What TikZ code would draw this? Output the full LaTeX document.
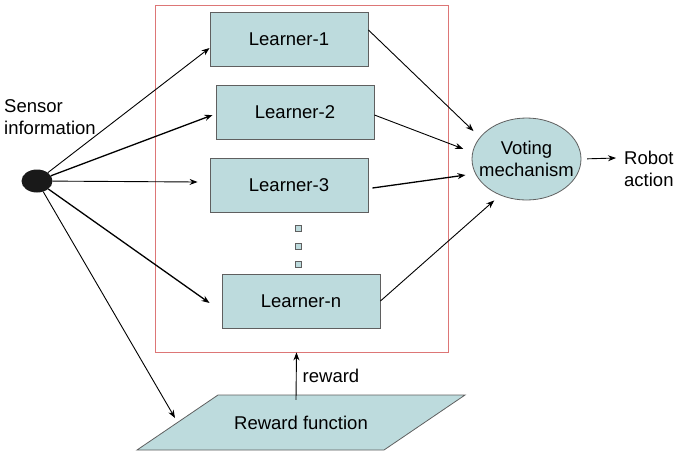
\documentclass[tikz,border=0pt]{standalone}
\usepackage{fontspec}
\setmainfont{Liberation Sans}
\usetikzlibrary{arrows.meta}
\usetikzlibrary{shapes.geometric}
\definecolor{boxfill}{RGB}{189,219,221}
\definecolor{boxline}{RGB}{95,95,95}
\definecolor{framered}{RGB}{221,118,118}

\begin{document}
\begin{tikzpicture}[x=1pt, y=-1pt, font=\fontsize{18.5}{22}\selectfont,
    learner/.style={draw=boxline, fill=boxfill, line width=0.9pt, minimum width=158pt, minimum height=54pt, inner sep=0},
    arr/.style={-{Stealth[length=8pt,width=6pt]}, line width=0.9pt},
    arrb/.style={-{Stealth[length=8pt,width=6pt]}, line width=1.3pt}]
            \useasboundingbox (0,0) rectangle (676,456);
            % learners inside the red frame
            \node[draw=framered, line width=0.8pt, minimum width=293pt, minimum height=347pt, inner sep=0] (frame) at (301.5,178.5) {};
            \node[learner] (l1) at (289,39) {Learner-1};
            \node[learner] (l2) at (295,112) {Learner-2};
            \node[learner] (l3) at (289,185) {Learner-3};
            \node[learner] (ln) at (301,301) {Learner-n};
            \foreach \y in {228,246,264}
                \node[draw=boxline, fill=boxfill, line width=0.6pt, minimum size=6pt, inner sep=0] at (298,\y) {};
            % sensor input and voting
            \node[fill=black!90, ellipse, minimum width=31pt, minimum height=23pt, inner sep=0] (dot) at (37,181) {};
            \node[anchor=west, align=left, inner sep=0] (sensor) at (4,117) {Sensor\\information};
            \draw[boxline, fill=boxfill, line width=0.8pt] (526.5,159) ellipse [x radius=54.5pt, y radius=41pt];
            \node[ellipse, minimum width=109pt, minimum height=82pt, inner xsep=-12pt, inner ysep=0, align=center] (vote) at (526.5,159) {Voting\\mechanism};
            \node[anchor=west, align=left, inner sep=0] (robot) at (624,169) {Robot\\action};
            % reward function below the frame
            \draw[boxline, fill=boxfill, line width=0.8pt] (137,450) -- (218,395) -- (465,395) -- (384,450) -- cycle;
            \node[minimum height=56pt, inner sep=0] (rf) at (301,423) {Reward function};
            \coordinate (rftip) at (175,418);
            % connections
            \draw[arr] (dot) -- ([yshift=-9pt]l1.west);
            \draw[arrb] (dot) -- ([xshift=-3pt,yshift=-3pt]l2.west);
            \draw[arr] (dot) -- ([xshift=-12pt,yshift=3pt]l3.west);
            \draw[arrb] (dot) -- ([xshift=-12pt,yshift=-2pt]ln.west);
            \draw[arr] (dot) -- (rftip);
            \draw[arr, shorten >=9pt] ([yshift=9pt]l1.east) -- (vote.155);
            \draw[arr, shorten >=10pt] ([yshift=-3pt]l2.east) -- (vote.173);
            \draw[arrb, shorten >=10pt] ([xshift=4pt,yshift=-3pt]l3.east) -- (vote.196);
            \draw[arr, shorten >=8pt] (ln.east) -- (vote.234);
            \draw[arr, shorten <=6pt] (vote.east) -- ([xshift=-8pt,yshift=11pt]robot.west);
            \draw[arr] ([xshift=-5pt,yshift=-5pt]rf.north) -- node[right, inner sep=6pt] {reward} ([xshift=-5pt]frame.south);
        \end{tikzpicture}
\end{document}
